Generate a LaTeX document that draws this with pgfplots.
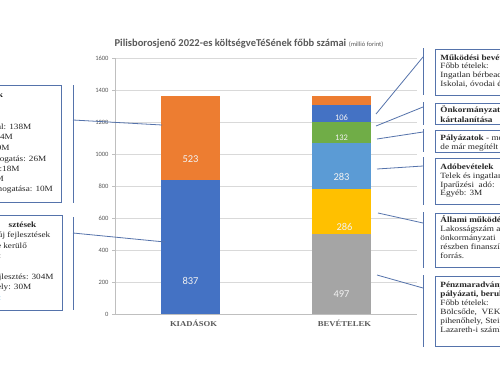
\documentclass[border=0pt]{standalone}
\usepackage{pgfplots}
\pgfplotsset{compat=1.18}
\usepackage{fontspec}
\setmainfont{Liberation Serif}
\newfontfamily\carlito{Carlito}
\newfontfamily\bx[FakeStretch=1.15]{Liberation Serif}
\definecolor{cblue}{HTML}{4472C4}
\definecolor{corange}{HTML}{ED7D31}
\definecolor{cgray}{HTML}{A5A5A5}
\definecolor{cyellow}{HTML}{FFC000}
\definecolor{clblue}{HTML}{5B9BD5}
\definecolor{cgreen}{HTML}{70AD47}
\definecolor{boxc}{HTML}{5573AB}
\definecolor{gridc}{HTML}{D9D9D9}
\definecolor{axc}{HTML}{BFBFBF}
\definecolor{tickc}{HTML}{595959}
\definecolor{txt}{HTML}{262626}
\definecolor{lnk}{HTML}{2E9BD6}
\newcommand\RT[3]{\node[anchor=base west,inner sep=0pt,font=\bx\fontsize{8}{9}\selectfont,text=txt] at (#1,#2) {#3};}
\newcommand\LT[3]{\node[anchor=base east,inner sep=0pt,font=\bx\fontsize{8}{9}\selectfont,text=txt] at (#1,#2) {#3};}
\pgfplotsset{
  seg/.style n args={3}{fill=#1, draw=none, nodes near coords, point meta=explicit symbolic,
    every node near coord/.append style={anchor=center, yshift=-#2pt, text=white!95!black,
      font=\carlito\fontsize{#3}{#3}\selectfont}},
}
\begin{document}
\begin{tikzpicture}
\useasboundingbox (0pt,0pt) rectangle (500pt,-383pt);
\fill[white] (0pt,0pt) rectangle (500pt,-383pt);
\clip (0pt,0pt) rectangle (500pt,-383pt);
\begin{axis}[
  at={(115pt,-314pt)}, anchor=south west,
  width=302pt, height=256pt, scale only axis,
  xmin=-0.5, xmax=1.5, ymin=0, ymax=1600,
  ybar stacked, bar width=59pt,
  xtick={0,1}, xticklabels={KIADÁSOK,BEVÉTELEK},
  ytick={0,200,...,1600},
  ymajorgrids, major grid style={draw=gridc, line width=0.8pt},
  axis x line*=bottom, axis y line*=left,
  axis line style={draw=axc, line width=0.8pt, -},
  tick align=outside, major tick length=3pt,
  xtick style={draw=none}, ytick style={draw=axc, line width=0.8pt},
  yticklabel style={font=\carlito\fontsize{6.5}{7}\selectfont, text=tickc},
  xticklabel style={font=\bx\bfseries\fontsize{7.5}{8}\selectfont, text=tickc, xshift=3pt},
  /pgf/number format/assume math mode=true,
  /pgf/number format/set thousands separator={},
  clip=false,
]
\addplot[seg={cblue}{33.48}{10.5}] coordinates {(0,837) [837] (1,0) [{}]};
\addplot[seg={cgray}{19.88}{10.5}] coordinates {(0,0) [{}] (1,497) [497]};
\addplot[seg={cyellow}{15}{10.5}, every node near coord/.append style={xshift=3pt}] coordinates {(0,0) [{}] (1,286) [286]};
\addplot[seg={clblue}{11.32}{10.5}] coordinates {(0,0) [{}] (1,283) [283]};
\addplot[seg={cgreen}{5.28}{8.5}] coordinates {(0,0) [{}] (1,132) [132]};
\addplot[seg={cblue}{4.24}{8.5}] coordinates {(0,0) [{}] (1,106) [106]};
\addplot[seg={corange}{2.24}{8}] coordinates {(0,0) [{}] (1,56) [{}]};
\addplot[seg={corange}{20.92}{10.5}] coordinates {(0,523) [523] (1,0) [{}]};
\end{axis}
\node[text=tickc, inner sep=0pt] at (249pt,-44pt) {{\carlito\bfseries\fontsize{10.5}{11}\selectfont Pilisborosjenő 2022-es költségveTéSének főbb számai} {\carlito\fontsize{6.5}{7}\selectfont (millió forint)}};
\begin{scope}[x=1pt,y=-1pt, boxc, line width=0.8pt]
% left boxes
\draw (-10,85) rectangle (61,202);
\draw (-10,215) rectangle (62,310);
\draw (73,85) -- (73,203);
\draw (73,217) -- (73,310);
\draw (73,120) -- (162,125);
\draw (73,233) -- (165,242);
% right boxes
\draw (435,49) rectangle (520,95);
\draw (435,103) rectangle (520,124);
\draw (435,130) rectangle (520,152);
\draw (435,158) rectangle (520,204);
\draw (435,213) rectangle (520,267);
\draw (435,276) rectangle (520,346);
\draw (423,48) -- (423,95);
\draw (423,102) -- (423,125);
\draw (423,129) -- (423,152);
\draw (423,157) -- (423,205);
\draw (423,212) -- (423,268);
\draw (423,275) -- (423,347);
\draw (376,114) -- (423,57);
\draw (376,126) -- (423,107);
\draw (377,139) -- (423,132);
\draw (377,169) -- (423,166);
\draw (378,213) -- (423,223);
\draw (377,275) -- (423,288);
% left texts
\LT{3.5}{97.5}{\bfseries k}
\LT{31.7}{129.5}{al: 138M}
\LT{13.3}{139.5}{34M}
\LT{10}{150.5}{9M}
\LT{46.7}{161.5}{nogatás: 26M}
\LT{20}{171.5}{:18M}
\LT{4.3}{181.5}{M}
\LT{53.3}{191.5}{nogatása: 10M}
\LT{36.7}{227.5}{\bfseries sztések}
\LT{50.7}{237.5}{új fejlesztések}
\LT{27.3}{248.5}{e kerülő}
\LT{1.7}{258.5}{:}
\LT{54}{279.5}{jlesztés: 304M}
\LT{31.7}{289.5}{ely: 30M}
\LT{1.7}{300.5}{\textcolor{lnk}{:}}
% right texts
\RT{440}{60}{\bfseries Működési bevételek}
\RT{440}{68.9}{Főbb tételek:}
\RT{440}{77.8}{Ingatlan bérbeadás}
\RT{440}{86.7}{Iskolai, óvodai étkeztetés}
\RT{440}{112.5}{\bfseries Önkormányzati}
\RT{440}{122}{\bfseries kártalanítása}
\RT{440}{140}{\textbf{Pályázatok} - még}
\RT{440}{149.5}{de már megítélt}
\RT{440}{169}{\bfseries Adóbevételek}
\RT{440}{178}{Telek és ingatlanadó}
\RT{440}{187}{Iparűzési\ \ adó:}
\RT{440}{195.5}{Egyéb: 3M}
\RT{440}{222.5}{\bfseries Állami működési}
\RT{440}{231.5}{Lakosságszám alapján}
\RT{440}{240.5}{önkormányzati}
\RT{440}{249.5}{részben finanszírozott}
\RT{440}{258.5}{forrás.}
\RT{440}{287.5}{\bfseries Pénzmaradvány}
\RT{440}{296.5}{\bfseries pályázati, beruházási}
\RT{440}{305.5}{Főbb tételek:}
\RT{440}{314.5}{Bölcsőde,\ \ VEKOP}
\RT{440}{323.5}{pihenőhely, Steiner}
\RT{440}{332}{Lazareth-i számla}
\end{scope}
\end{tikzpicture}
\end{document}
